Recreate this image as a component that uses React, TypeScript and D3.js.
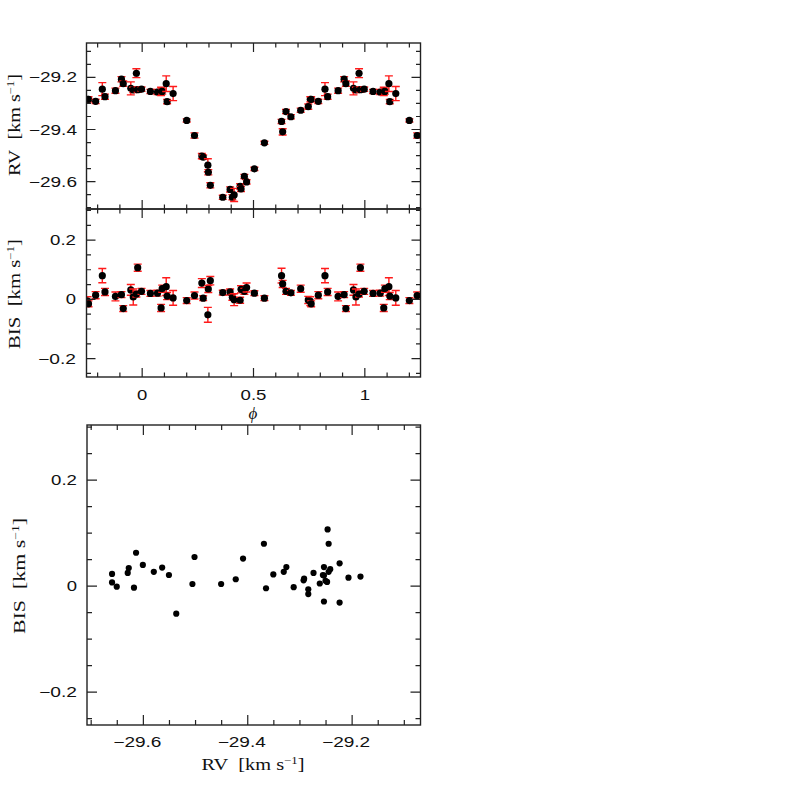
import React from "react";
import * as d3 from "d3";

// orbital phase, RV and bisector span (phase 0..1, drawn again at ±1)
const phase = [
  0.037, 0.069, 0.085, 0.09, 0.108, 0.112, 0.139, 0.2, 0.235, 0.268, 0.274,
  0.295, 0.297, 0.306, 0.362, 0.395, 0.405, 0.413, 0.44, 0.444, 0.459, 0.469,
  0.504, 0.549, 0.626, 0.631, 0.646, 0.668, 0.712, 0.746, 0.755, 0.759, 0.791,
  0.821, 0.833, 0.88, 0.907, 0.915, 0.949, 0.96, 0.974, 0.98, 0.997,
];
const rv = [
  -29.254, -29.256, -29.254, -29.254, -29.224, -29.293, -29.262, -29.365,
  -29.423, -29.502, -29.506, -29.537, -29.564, -29.614, -29.66, -29.63, -29.66,
  -29.651, -29.618, -29.628, -29.58, -29.601, -29.551, -29.451, -29.369,
  -29.409, -29.331, -29.351, -29.326, -29.312, -29.284, -29.284, -29.292,
  -29.245, -29.274, -29.251, -29.207, -29.224, -29.242, -29.248, -29.184,
  -29.247, -29.245,
];
const rvErr = [
  0.008, 0.01, 0.016, 0.01, 0.03, 0.008, 0.027, 0.006, 0.01, 0.01, 0.008,
  0.025, 0.01, 0.01, 0.008, 0.01, 0.01, 0.025, 0.01, 0.01, 0.008, 0.008, 0.006,
  0.006, 0.008, 0.012, 0.008, 0.008, 0.008, 0.01, 0.01, 0.01, 0.008, 0.025,
  0.01, 0.01, 0.01, 0.01, 0.025, 0.01, 0.017, 0.01, 0.008,
];
const bis = [
  0.02, 0.021, -0.029, 0.036, 0.043, 0.011, 0.005, -0.004, 0.013, 0.055, 0.004,
  -0.052, 0.035, 0.063, 0.023, 0.025, 0.007, -0.001, -0.003, 0.034, 0.027, 0.04,
  0.021, 0.004, 0.08, 0.052, 0.027, 0.022, 0.036, -0.002, -0.006, -0.015, 0.014,
  0.08, 0.025, 0.01, 0.016, -0.031, 0.032, 0.008, 0.018, 0.107, 0.027,
];
const bisErr = [
  0.01, 0.01, 0.012, 0.012, 0.03, 0.012, 0.025, 0.01, 0.012, 0.015, 0.008,
  0.025, 0.012, 0.014, 0.008, 0.01, 0.01, 0.02, 0.01, 0.012, 0.01, 0.015, 0.008,
  0.008, 0.025, 0.012, 0.01, 0.008, 0.012, 0.012, 0.015, 0.01, 0.012, 0.024,
  0.012, 0.015, 0.01, 0.01, 0.018, 0.027, 0.01, 0.012, 0.01,
];

const phaseLabels = [0, 0.5, 1];
const rvLabels = [-29.6, -29.4, -29.2];
const bisLabels = [-0.2, 0, 0.2];
const phaseCopies = [-1, 0, 1];

// scales (pixel ranges match the reference frames)
const xPhase = d3.scaleLinear().domain([-0.25, 1.25]).range([86.5, 420.5]);
const yRV = d3.scaleLinear().domain([-29.705, -29.068]).range([209, 43]);
const yBisMid = d3.scaleLinear().domain([-0.262, 0.305]).range([377, 209]);
const xRV = d3.scaleLinear().domain([-29.708, -29.069]).range([87, 420.5]);
const yBis = d3.scaleLinear().domain([-0.262, 0.304]).range([725, 425]);

const INK = "#222";
const RED = "#ff1a1a";
const SANS = "'Liberation Sans', Arial, sans-serif";
const SERIF = "'Liberation Serif', 'Times New Roman', serif";

const charW = (c: string) => (c === "." ? 5.3 : c === "−" ? 12 : 10.3);
const textW = (s: string) => Array.from(s).reduce((a, c) => a + charW(c), 0);
const fmt = (v: number) => (v < 0 ? "−" : "") + String(Math.abs(v));

function stepTicks(scale: d3.ScaleLinear<number, number>, step: number) {
  const [a, b] = d3.extent(scale.domain()) as [number, number];
  const i0 = Math.ceil(a / step - 1e-9);
  const i1 = Math.floor(b / step + 1e-9);
  return d3.range(i0, i1 + 1).map((i) => +(i * step).toFixed(4));
}

function Frame({ xs, ys, xStep, yStep, xMaj, yMaj, major, minor }: any) {
  const [x0, x1] = xs.range();
  const [y0, y1] = ys.range(); // bottom, top
  const isMaj = (v: number, arr: number[]) => arr.some((m) => Math.abs(m - v) < 1e-6);
  let d = "";
  stepTicks(xs, xStep).forEach((v) => {
    const x = xs(v);
    const len = isMaj(v, xMaj) ? major : minor;
    d += `M${x},${y0}v${-len}M${x},${y1}v${len}`;
  });
  stepTicks(ys, yStep).forEach((v) => {
    const y = ys(v);
    const len = isMaj(v, yMaj) ? major : minor;
    d += `M${x0},${y}h${len}M${x1},${y}h${-len}`;
  });
  return (
    <g>
      <path d={d} stroke={INK} strokeWidth={1.2} fill="none" />
      <rect x={x0} y={y1} width={x1 - x0} height={y0 - y1} fill="none" stroke={INK} strokeWidth={1.4} />
    </g>
  );
}

function YLabels({ ys, vals, right }: any) {
  return (
    <g fontFamily={SANS} fontSize={14} fill="#111">
      {vals.map((v: number) => {
        const s = fmt(v);
        const w = textW(s);
        return (
          <text key={v} x={right - w} y={ys(v) + 5} textLength={w} lengthAdjust="spacingAndGlyphs">
            {s}
          </text>
        );
      })}
    </g>
  );
}

function XLabels({ xs, vals, y }: any) {
  return (
    <g fontFamily={SANS} fontSize={14} fill="#111">
      {vals.map((v: number) => {
        const s = fmt(v);
        const w = textW(s);
        const digits = v < 0 ? w - 12 : w;
        const start = xs(v) - digits / 2 - (w - digits);
        return (
          <text key={v} x={start} y={y} textLength={w} lengthAdjust="spacingAndGlyphs">
            {s}
          </text>
        );
      })}
    </g>
  );
}

function AxisTitle({ name, x, y, len, rotate }: any) {
  const tf = rotate ? `translate(${x},${y}) rotate(-90)` : `translate(${x},${y})`;
  return (
    <text
      transform={tf}
      x={-len / 2}
      y={0}
      fontFamily={SERIF}
      fontSize={16}
      fill="#111"
      textLength={len}
      lengthAdjust="spacingAndGlyphs"
    >
      {name + "\u00a0\u00a0[km\u00a0s"}
      <tspan dy={-6} fontSize={10}>
        −1
      </tspan>
      <tspan dy={6}>]</tspan>
    </text>
  );
}

function ErrDot({ cx, cy, lo, hi, r }: any) {
  return (
    <g>
      <path
        d={`M${cx},${lo}V${hi}M${cx - 4},${lo}h8M${cx - 4},${hi}h8`}
        stroke={RED}
        strokeWidth={1.4}
        fill="none"
      />
      <circle cx={cx} cy={cy} r={r} fill="#000" />
    </g>
  );
}

export default function App() {
  const idx = d3.range(phase.length);
  const copies: { p: number; i: number }[] = [];
  phaseCopies.forEach((off) =>
    idx.forEach((i) => {
      const p = phase[i] + off;
      if (p >= -0.25 && p <= 1.25) copies.push({ p, i });
    })
  );

  return (
    <svg
      width={797}
      height={797}
      style={{ position: "absolute", left: 0, top: 0, background: "#fff" }}
    >
      <defs>
        <clipPath id="clipTop">
          <rect x={86.5} y={43} width={334} height={166} />
        </clipPath>
        <clipPath id="clipMid">
          <rect x={86.5} y={209} width={334} height={168} />
        </clipPath>
      </defs>

      {/* RV vs phase */}
      <g clipPath="url(#clipTop)">
        {copies.map(({ p, i }) => (
          <ErrDot
            key={`rv${i}_${p}`}
            cx={xPhase(p)}
            cy={yRV(rv[i])}
            lo={yRV(rv[i] - rvErr[i])}
            hi={yRV(rv[i] + rvErr[i])}
            r={3.6}
          />
        ))}
      </g>
      <Frame xs={xPhase} ys={yRV} xStep={0.1} yStep={0.05} xMaj={phaseLabels} yMaj={rvLabels} major={9} minor={4.5} />
      <YLabels ys={yRV} vals={rvLabels} right={77} />
      <AxisTitle name="RV" x={20} y={125} len={102} rotate />

      {/* BIS vs phase */}
      <g clipPath="url(#clipMid)">
        {copies.map(({ p, i }) => (
          <ErrDot
            key={`bis${i}_${p}`}
            cx={xPhase(p)}
            cy={yBisMid(bis[i])}
            lo={yBisMid(bis[i] - bisErr[i])}
            hi={yBisMid(bis[i] + bisErr[i])}
            r={3.6}
          />
        ))}
      </g>
      <Frame xs={xPhase} ys={yBisMid} xStep={0.1} yStep={0.05} xMaj={phaseLabels} yMaj={bisLabels} major={9} minor={4.5} />
      <YLabels ys={yBisMid} vals={bisLabels} right={76} />
      <XLabels xs={xPhase} vals={phaseLabels} y={400} />
      <AxisTitle name="BIS" x={20} y={294} len={110} rotate />
      <text x={253} y={419} textAnchor="middle" fontFamily={SERIF} fontStyle="italic" fontSize={17} fill="#111">
        ϕ
      </text>

      {/* BIS vs RV */}
      <g>
        {idx.map((i) => (
          <circle key={`s${i}`} cx={xRV(rv[i])} cy={yBis(bis[i])} r={3.1} fill="#000" />
        ))}
      </g>
      <Frame xs={xRV} ys={yBis} xStep={0.05} yStep={0.05} xMaj={rvLabels} yMaj={bisLabels} major={10} minor={5} />
      <YLabels ys={yBis} vals={bisLabels} right={77} />
      <XLabels xs={xRV} vals={rvLabels} y={747} />
      <AxisTitle name="BIS" x={25} y={576} len={116} rotate />
      <AxisTitle name="RV" x={253} y={770} len={103} />
    </svg>
  );
}
